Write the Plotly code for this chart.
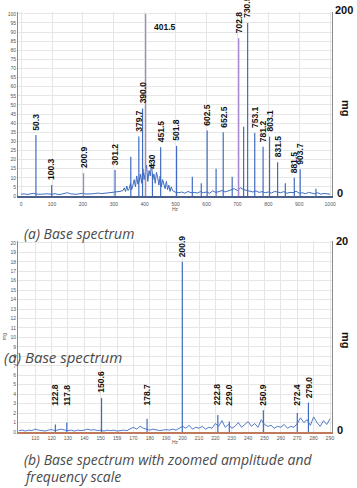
import plotly.graph_objects as go

# ---------------- data: panel (a) ----------------
top_noise_x = list(range(0, 330, 10)) + list(range(330, 494, 4)) + list(range(500, 1001, 10))
top_noise_y = [1.0, 1.2, 0.8, 1.0, 1.5, 1.0, 0.8, 1.0, 1.2, 0.9, 1.0, 1.3, 0.8, 1.0, 1.5, 1.8, 1.2,
               1.0, 0.9, 1.3, 1.5, 1.1, 1.0, 1.2, 1.4, 1.6, 1.3, 1.5, 1.8, 1.6, 2.0, 2.2, 2.5,
               3, 4.5, 2.5, 5.5, 3, 4, 7, 3.5, 6, 9, 5, 11, 6.5, 8, 12, 7, 15, 9, 13, 17, 8, 14, 11,
               18, 9, 12, 7, 13, 10, 6, 11, 5, 9, 7, 4, 8, 3.5, 6, 2.5, 5, 3,
               2, 1.8, 2.2, 1.5, 2.5, 1.8, 2, 1.6, 2.4, 1.8, 2.2, 1.5, 2.8, 2, 2.4, 3, 2.2, 2.8, 3.5,
               4, 3, 4.5, 3.5, 3, 2.5, 2.2, 2.8, 2, 2.4, 1.8, 2.2, 1.6, 2.5, 2, 1.8, 2.4, 1.5, 2,
               1.8, 2.6, 1.5, 1.8, 1.2, 2, 1.5, 1.2, 1.8, 1.0, 1.4, 1.2, 1.0]

top_peak_x = [48, 99, 202, 304, 355, 381, 393, 403, 425, 451.6, 503, 554, 583, 602, 631, 654,
              683, 704, 720, 733, 756, 783, 804, 830, 855, 884, 903, 954]
top_peak_h = [33.5, 6, 12.5, 14.3, 21.6, 32.6, 48, 100, 12.6, 26.7, 27.5, 10.6, 7, 36, 15, 35,
              10.6, 86.6, 38, 95, 34.6, 27, 32.6, 18.5, 7, 10, 14.7, 4]
top_peak_label = ["50.3", "100.3", "200.9", "301.2", "", "379.7", "390.0", "401.5", "430",
                  "451.5", "501.8", "", "", "602.5", "", "652.5", "", "702.8", "", "730.5",
                  "753.1", "781.2", "803.1", "831.5", "", "881.5", "903.7", ""]
top_purple = ["200.9", "401.5", "702.8"]
top_xticks = [0, 100, 200, 300, 400, 500, 600, 700, 800, 900, 1000]

# ---------------- data: panel (b) ----------------
bot_noise_x = list(range(100, 292, 2))
bot_noise_y = [0.15, 0.2, 0.1, 0.2, 0.15, 0.3, 0.2, 0.15, 0.1, 0.2, 0.25, 0.15, 0.2, 0.3, 0.2,
               0.15, 0.2, 0.1, 0.2, 0.15, 0.2, 0.3, 0.2, 0.25, 0.15, 0.2, 0.1, 0.2, 0.15, 0.2,
               0.1, 0.15, 0.2, 0.15, 0.3, 0.5, 0.3, 0.6, 0.4, 0.3, 0.2, 0.3, 0.2, 0.15, 0.2,
               0.25, 0.2, 0.3, 0.2, 0.4,
               0.6, 0.4, 0.7, 0.3, 0.5, 0.4, 0.6, 0.3, 0.5, 0.4, 0.9, 0.6, 1.2, 0.5, 0.8, 0.4,
               0.6, 1.0, 0.5, 0.8, 1.1, 0.6, 0.9, 0.5, 1.3, 0.8, 0.6, 0.7, 0.4, 0.6, 0.5, 0.8,
               0.4, 0.6, 0.5, 0.9, 1.5, 1.0, 1.3, 0.7, 1.6, 1.0, 0.6, 1.2, 0.8, 1.4]
bot_peak_x = [122.3, 129.3, 150.5, 178.3, 199.8, 221.5, 228.5, 249.3, 270, 276.8]
bot_peak_h = [0.8, 1.0, 3.6, 1.4, 18.0, 1.8, 1.1, 2.3, 2.0, 3.1]
bot_peak_label = ["122.8", "117.8", "150.6", "178.7", "200.9", "222.8", "229.0", "250.9",
                  "272.4", "279.0"]
bot_xticks = [110, 120, 130, 140, 150, 160, 170, 180, 190, 200, 210, 220, 230, 240, 250, 260,
              270, 280, 290]
bot_xtick_text = ["110", "120", "130", "140", "150", "159", "170", "180", "190", "200", "210",
                  "220", "230", "240", "250", "260", "270", "280", "290"]

BLUE = "#3f6cc2"
PURPLE = "#a584cf"
W, H = 357, 488


def spikes(xs, hs):
    sx, sy = [], []
    for x, h in zip(xs, hs):
        sx += [x, x, None]
        sy += [0, h, None]
    return sx, sy


fig = go.Figure()

# panel (a)
fig.add_trace(go.Scatter(x=top_noise_x, y=top_noise_y, mode="lines",
                         line=dict(color=BLUE, width=1), xaxis="x", yaxis="y",
                         showlegend=False, hoverinfo="skip"))
bx = [x for x, l in zip(top_peak_x, top_peak_label) if l not in top_purple]
bh = [h for h, l in zip(top_peak_h, top_peak_label) if l not in top_purple]
px = [x for x, l in zip(top_peak_x, top_peak_label) if l in top_purple]
ph = [h for h, l in zip(top_peak_h, top_peak_label) if l in top_purple]
sx, sy = spikes(bx, bh)
fig.add_trace(go.Scatter(x=sx, y=sy, mode="lines", line=dict(color=BLUE, width=1.2),
                         xaxis="x", yaxis="y", showlegend=False, hoverinfo="skip"))
sx, sy = spikes(px, ph)
fig.add_trace(go.Scatter(x=sx, y=sy, mode="lines", line=dict(color=PURPLE, width=1.3),
                         xaxis="x", yaxis="y", showlegend=False, hoverinfo="skip"))

# panel (b)
fig.add_trace(go.Scatter(x=bot_noise_x, y=bot_noise_y, mode="lines",
                         line=dict(color=BLUE, width=0.9), xaxis="x2", yaxis="y2",
                         showlegend=False, hoverinfo="skip"))
sx, sy = spikes(bot_peak_x, bot_peak_h)
fig.add_trace(go.Scatter(x=sx, y=sy, mode="lines", line=dict(color=BLUE, width=1.2),
                         xaxis="x2", yaxis="y2", showlegend=False, hoverinfo="skip"))

ann = []
lab_font = dict(family="Liberation Sans, Arial", size=8.5, color="#111")
for x, h, l in zip(top_peak_x, top_peak_h, top_peak_label):
    if not l:
        continue
    if l == "401.5":
        ann.append(dict(x=x + 22, y=93, xref="x", yref="y", text="<b>" + l + "</b>",
                        showarrow=False, xanchor="left", yanchor="middle", font=lab_font))
    else:
        ann.append(dict(x=x, y=h + 1.5, xref="x", yref="y", text="<b>" + l + "</b>",
                        textangle=-90, showarrow=False, xanchor="center", yanchor="bottom",
                        font=lab_font))
for x, h, l in zip(bot_peak_x, bot_peak_h, bot_peak_label):
    ann.append(dict(x=x, y=max(h + 0.3, 2.6), xref="x2", yref="y2", text="<b>" + l + "</b>",
                    textangle=-90, showarrow=False, xanchor="center", yanchor="bottom",
                    font=lab_font))

side_font = dict(family="Liberation Sans, Arial", size=11, color="#111")
def px_ann(xp, yp, text, font, xanchor="center", **kw):
    d = dict(x=xp / W, y=1 - yp / H, xref="paper", yref="paper", text=text,
             showarrow=False, font=font, xanchor=xanchor, yanchor="middle")
    d.update(kw)
    ann.append(d)

px_ann(344, 10, "<b>200</b>", side_font)
px_ann(340, 193, "<b>0</b>", side_font)
px_ann(346, 108, "<b>mg</b>", side_font, textangle=90)
px_ann(342, 241, "<b>20</b>", side_font)
px_ann(340, 430, "<b>0</b>", side_font)
px_ann(346, 340, "<b>mg</b>", side_font, textangle=90)

tiny = dict(family="Liberation Sans, Arial", size=5, color="#555")
px_ann(175, 209, "Hz", tiny)
px_ann(175, 442, "Hz", tiny)
px_ann(4, 337, "mg", tiny, textangle=-90)

cap_font = dict(family="Open Sans", size=14, color="#4a4a4a")
px_ann(22, 233, "<i>(a) Base spectrum</i>", cap_font, xanchor="left")
px_ann(2, 357, "<i>(a) Base spectrum</i>", dict(family="Open Sans", size=15, color="#4a4a4a"),
       xanchor="left")
px_ann(22, 459, "<i>(b) Base spectrum with zoomed amplitude and</i>", cap_font, xanchor="left")
px_ann(22, 476, "<i>frequency scale</i>", cap_font, xanchor="left")

grid = "#e6e6e6"
xdom = [18 / W, 332 / W]
fig.update_layout(
    template="none",
    width=W, height=H, margin=dict(l=0, r=0, t=0, b=0, autoexpand=False),
    paper_bgcolor="white", plot_bgcolor="white",
    xaxis=dict(domain=xdom, anchor="y", range=[-10, 1006], tickvals=top_xticks,
               tickfont=tiny, showgrid=True, gridcolor=grid, gridwidth=1, automargin=False,
               showline=True, linecolor="#4a5f8a", linewidth=1.5, mirror=False,
               ticks="", zeroline=False, ticklabelstandoff=2),
    yaxis=dict(domain=[1 - 196 / H, 1 - 12 / H], anchor="x", range=[0, 101], dtick=5,
               tickfont=tiny, showgrid=True, gridcolor=grid, showline=True, automargin=False,
               linecolor="#8a8a8a", linewidth=1, mirror=True, ticks="", zeroline=False),
    xaxis2=dict(domain=xdom, anchor="y2", range=[99.5, 291.2], tickvals=bot_xticks,
                ticktext=bot_xtick_text, tickfont=tiny, showgrid=True, gridcolor=grid,
                showline=True, linecolor="#c0795a", linewidth=1.5, ticks="",
                zeroline=False, automargin=False),
    yaxis2=dict(domain=[1 - 432 / H, 1 - 241 / H], anchor="x2", range=[0, 20.2], dtick=1,
                tickfont=tiny, showgrid=True, gridcolor=grid, showline=True, automargin=False,
                linecolor="#8a8a8a", linewidth=1, mirror=True, ticks="", zeroline=False),
    annotations=ann,
)

fig.write_html("out.html", post_script="document.body.style.margin='0';",
               config={"displayModeBar": False})
